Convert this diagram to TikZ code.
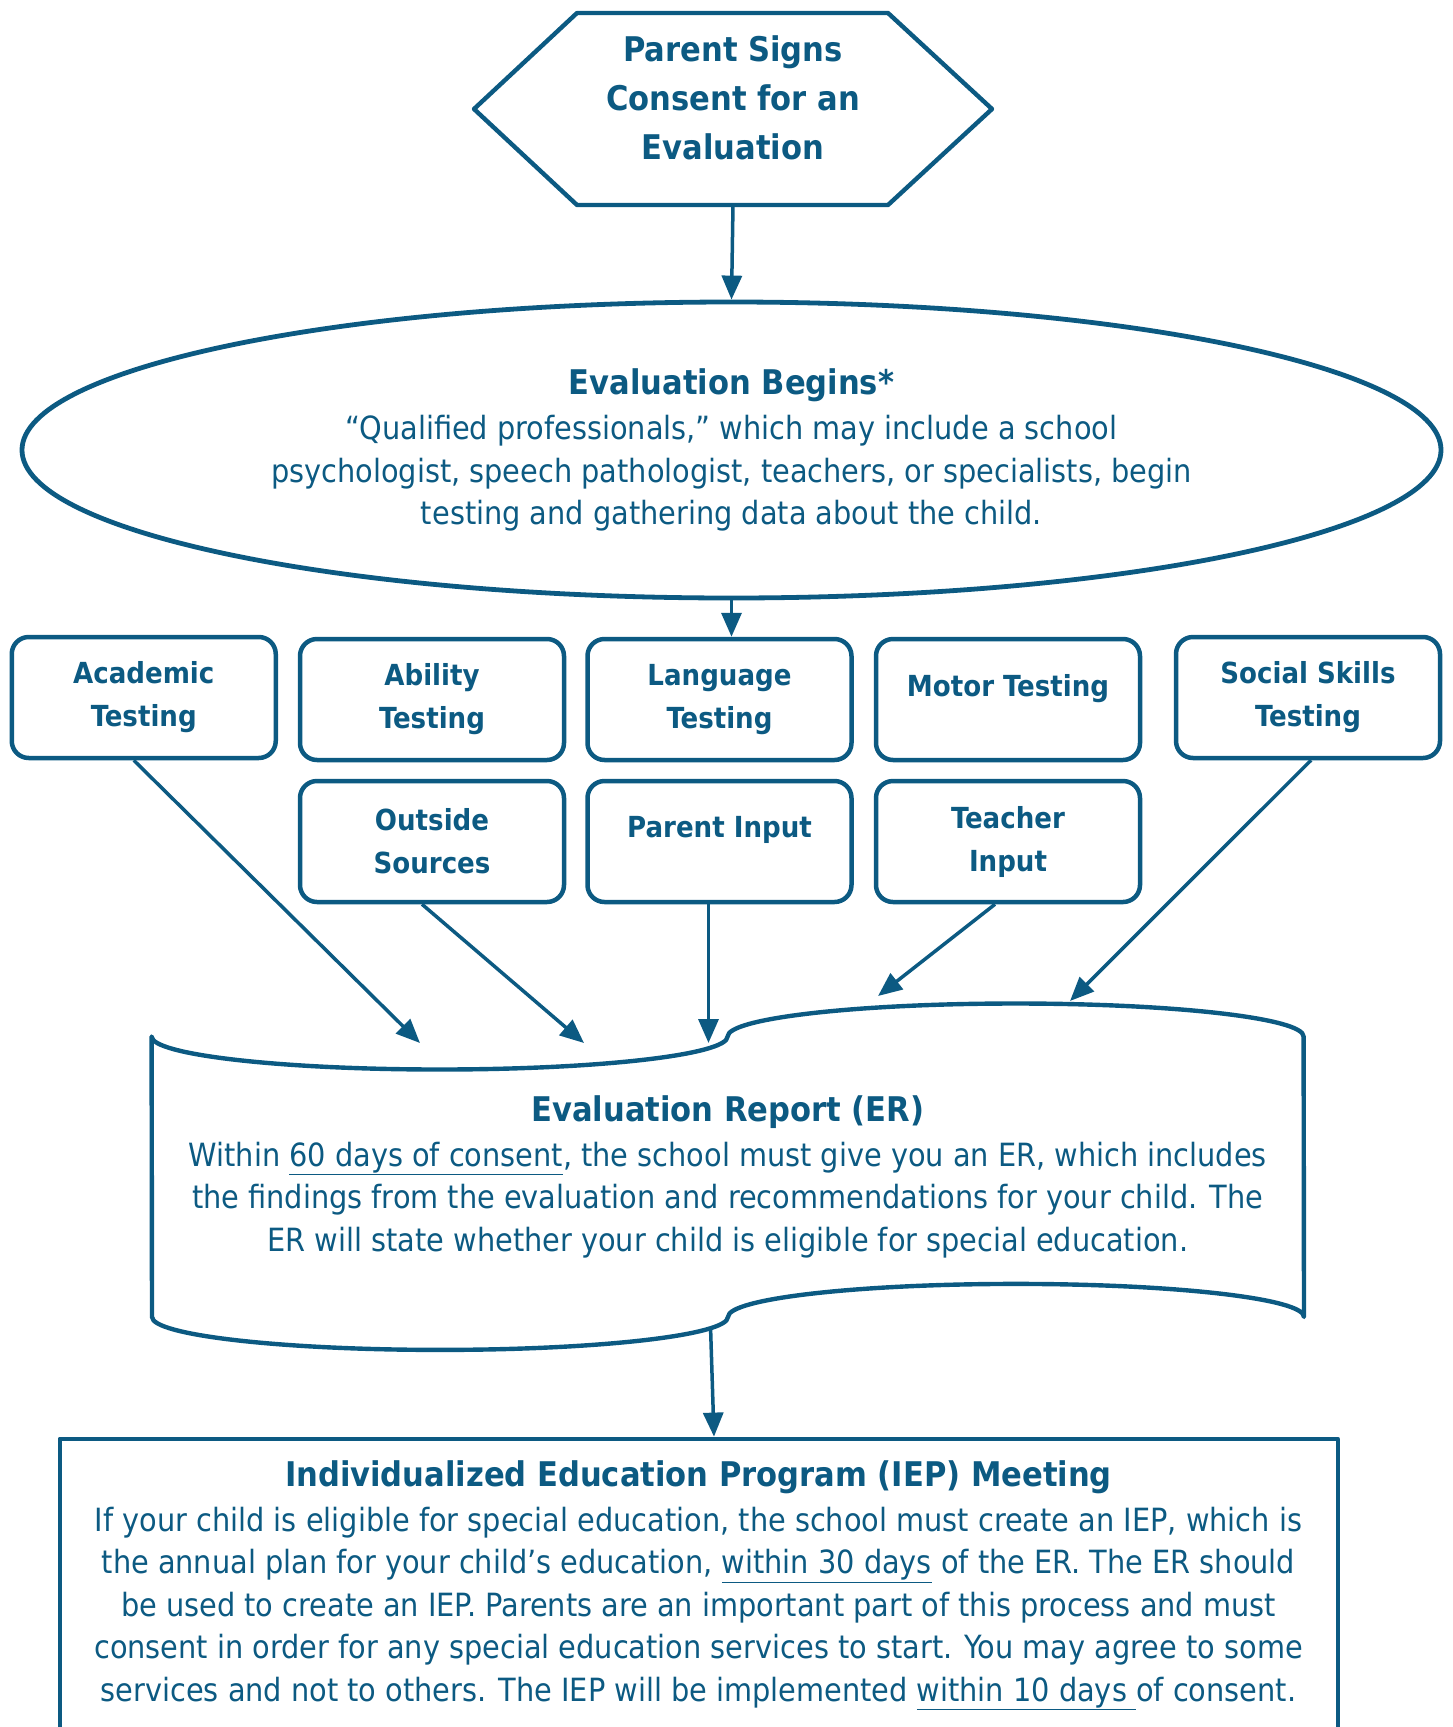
\documentclass[tikz,border=0pt]{standalone}
\usepackage{fontspec}
\setmainfont{DejaVu Sans Condensed}
\usetikzlibrary{arrows.meta, shapes.geometric, calc}

\definecolor{iepblue}{RGB}{12,90,130}

\begin{document}
\begin{tikzpicture}[x=1pt, y=-1pt, line join=round,
    box/.style={draw=iepblue, line width=4.5pt, rounded corners=17pt, minimum width=264pt,
        minimum height=121pt, inner sep=0pt, align=center, text=iepblue,
        font=\fontsize{29}{43}\selectfont\bfseries},
    flow/.style={draw=iepblue, line width=3.5pt, -{Triangle[length=24pt, width=20pt]}},
    txt/.style={text=iepblue, align=center, inner sep=0pt, font=\fontsize{32}{42.5}\selectfont}]
    \useasboundingbox (0,0) rectangle (1452,1727);
    \clip (0,0) rectangle (1452,1727);

    % Consent
    \node[txt, font=\fontsize{34}{49}\selectfont\bfseries] (consent) at (733,97.5)
        {Parent Signs\\Consent for an\\Evaluation};
    \draw[iepblue, line width=4.4pt] (577,13) -- (888,13) -- (992,109) -- (888,205)
        -- (577,205) -- (474,109) -- cycle;
    \coordinate (hexbot) at (733,205);

    % Evaluation begins
    \node[txt, draw=iepblue, line width=4.8pt, ellipse, minimum width=1419pt,
        minimum height=296pt] (begins) at (731.5,450)
        {{\fontsize{34}{45}\selectfont\bfseries Evaluation Begins*}\\[2.5pt]
         “Qualified professionals,” which may include a school\\
         psychologist, speech pathologist, teachers, or specialists, begin\\
         testing and gathering data about the child.};
    \draw[flow] (hexbot) -- (begins.north);

    % Testing boxes
    \node[box] (acad) at (143.75,697.5) {Academic\\Testing};
    \node[box] (abil) at (432,699.5) {Ability\\Testing};
    \node[box] (lang) at (719.5,699.5) {Language\\Testing};
    \node[box] (motor) at (1008,699.5) {Motor Testing\\[-14pt]~};
    \node[box] (social) at (1308,697.5) {Social Skills\\Testing};
    \node[box] (outside) at (432,841.5) {Outside\\Sources};
    \node[box] (pin) at (719.5,841.5) {Parent Input\\[-14pt]~};
    \node[box] (teacher) at (1008,841.5) {Teacher\\Input};
    \draw[flow] (begins.south) -- (begins.south |- lang.north);

    % Evaluation report
    \node[txt, minimum width=1152pt, minimum height=280pt] (report) at (727.8,1176.7)
        {{\fontsize{34}{45}\selectfont\bfseries Evaluation Report (ER)}\\[2.5pt]
         Within \underline{60 days of consent}, the school must give you an ER, which includes\\
         the findings from the evaluation and recommendations for your child. The\\
         ER will state whether your child is eligible for special education.};
    \draw[iepblue, line width=4.4pt] (report.north west)
        arc[start angle=180, end angle=0, x radius=288, y radius=33]
        arc[start angle=180, end angle=360, x radius=288, y radius=33]
        -- (report.south east)
        arc[start angle=360, end angle=180, x radius=288, y radius=33]
        arc[start angle=0, end angle=180, x radius=288, y radius=33] -- cycle;
    \coordinate (tipA) at (420,1043);
    \coordinate (tipB) at (584,1043);
    \coordinate (tipC) at (708.5,1043);
    \coordinate (tipD) at (878,996);
    \coordinate (tipE) at (1070,1001);
    \coordinate (erout) at (710.6,1329);
    \draw[flow] ([xshift=-10pt]acad.south) -- (tipA);
    \draw[flow] ([xshift=-10pt]outside.south) -- (tipB);
    \draw[flow] ([xshift=-11pt]pin.south) -- (tipC);
    \draw[flow] ([xshift=-13pt]teacher.south) -- (tipD);
    \draw[flow] ([xshift=3pt]social.south) -- (tipE);

    % IEP meeting
    \node[txt, draw=iepblue, line width=4pt, anchor=north, minimum width=1278pt,
        minimum height=293pt] (iep) at (698.5,1436.6)
        {{\fontsize{34}{45}\selectfont\bfseries Individualized Education Program (IEP) Meeting}\\[2.5pt]
         If your child is eligible for special education, the school must create an IEP, which is\\
         the annual plan for your child’s education, \underline{within 30 days} of the ER. The ER should\\
         be used to create an IEP. Parents are an important part of this process and must\\
         consent in order for any special education services to start. You may agree to some\\
         services and not to others. The IEP will be implemented \underline{within 10 days }of consent.};
    \draw[flow] (erout) -- ([xshift=15.5pt]iep.north);
\end{tikzpicture}
\end{document}
